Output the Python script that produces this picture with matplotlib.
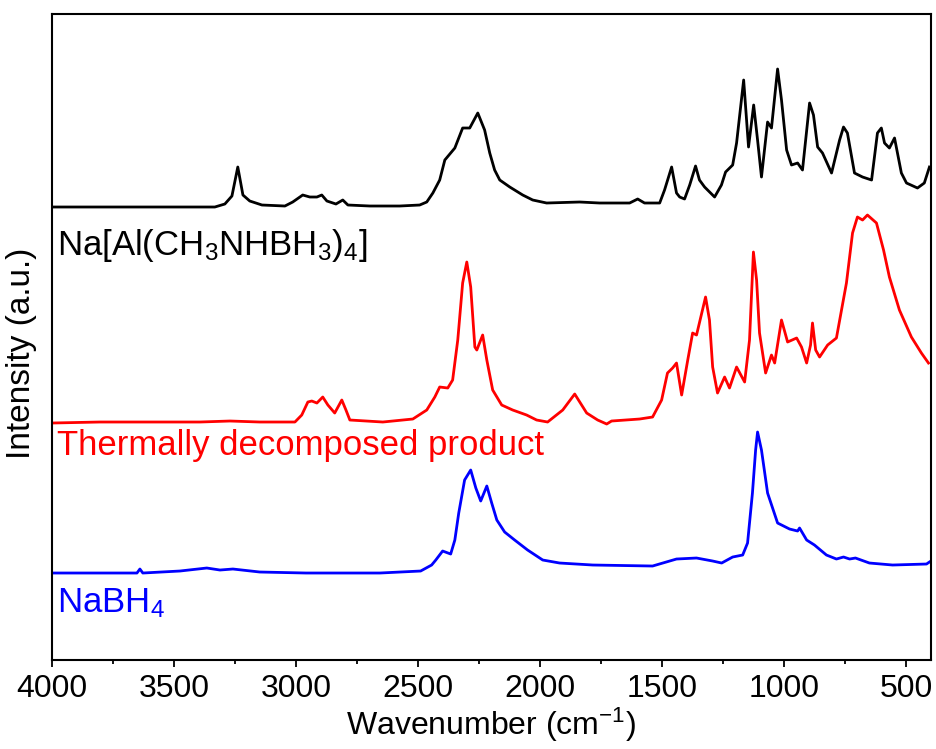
import matplotlib
matplotlib.use('Agg')
from matplotlib import pyplot as plt
from matplotlib.ticker import MultipleLocator

plt.rc('font', family='Liberation Sans', size=23)
plt.rc('mathtext', fontset='custom', rm='Liberation Sans', default='regular')

# Na[Al(CH3NHBH3)4]  (stacked, offset included)
wn_black = [4000, 3599, 3333, 3292, 3263, 3239, 3218, 3190, 3140, 3046, 3014, 2973,
            2944, 2915, 2895, 2874, 2837, 2809, 2788, 2698, 2576, 2494, 2465, 2440,
            2412, 2391, 2350, 2318, 2289, 2256, 2228, 2207, 2187, 2166, 2125, 2072,
            2031, 1974, 1839, 1757, 1634, 1601, 1573, 1511, 1491, 1462, 1442, 1429,
            1409, 1388, 1364, 1348, 1327, 1286, 1258, 1241, 1212, 1196, 1167, 1147,
            1126, 1110, 1094, 1069, 1053, 1028, 1012, 991, 971, 946, 926, 897, 881,
            864, 844, 807, 774, 758, 742, 713, 680, 643, 619, 603, 590, 570, 549,
            521, 500, 455, 427, 406]
int_black = [453, 453, 453, 456, 464, 493, 465, 459, 455, 454, 458, 465,
             463, 463, 465, 459, 456, 460, 455, 454, 454, 455, 458, 467,
             480, 500, 512, 532, 532, 547, 530, 507, 490, 480, 473, 465,
             460, 457, 458, 457, 457, 461, 457, 457, 470, 493, 467, 463,
             461, 475, 494, 480, 473, 463, 475, 488, 495, 517, 580, 513,
             555, 520, 483, 538, 532, 591, 560, 510, 495, 497, 490, 557, 545,
             513, 507, 487, 520, 533, 527, 487, 483, 480, 527, 532, 517, 512, 522,
             487, 477, 472, 477, 493]

# thermally decomposed product
wn_red = [4000, 3804, 3394, 3271, 3149, 3005, 2977, 2952, 2936, 2915, 2891, 2870,
          2842, 2813, 2796, 2780, 2645, 2522, 2465, 2432, 2412, 2379, 2359, 2338,
          2318, 2301, 2285, 2268, 2260, 2236, 2219, 2195, 2158, 2113, 2056, 2015,
          1970, 1908, 1859, 1810, 1765, 1728, 1708, 1593, 1540, 1503, 1479, 1458,
          1442, 1421, 1396, 1376, 1360, 1323, 1307, 1294, 1274, 1245, 1225, 1196,
          1163, 1143, 1127, 1114, 1102, 1077, 1053, 1040, 1012, 987, 950, 930, 909,
          893, 885, 872, 856, 823, 787, 746, 721, 701, 680, 660, 623, 594, 570,
          529, 480, 439, 410]
int_red = [237, 238, 238, 239, 238, 238, 245, 258, 259, 257, 263, 255,
           247, 260, 250, 240, 238, 241, 250, 263, 273, 272, 280, 320,
           377, 398, 373, 313, 310, 325, 300, 270, 255, 250, 245, 240,
           238, 250, 266, 247, 240, 236, 239, 241, 243, 260, 287, 292,
           297, 265, 300, 327, 325, 363, 340, 293, 267, 283, 272, 293,
           278, 320, 408, 380, 327, 287, 305, 297, 340, 318, 322, 313, 297,
           315, 337, 310, 303, 315, 322, 377, 427, 443, 440, 445, 437, 410, 383,
           350, 323, 307, 297]

# NaBH4
wn_blue = [4000, 3804, 3652, 3640, 3628, 3476, 3366, 3312, 3259, 3149, 2960, 2657,
           2490, 2445, 2428, 2400, 2367, 2350, 2334, 2310, 2285, 2264, 2244, 2219,
           2199, 2178, 2146, 2105, 2052, 1990, 1921, 1785, 1540, 1442, 1360, 1294,
           1257, 1212, 1171, 1151, 1131, 1118, 1110, 1094, 1069, 1028, 979, 946,
           938, 909, 877, 828, 787, 758, 733, 709, 652, 557, 418, 406]
int_blue = [87, 87, 87, 91, 87, 89, 92, 90, 91, 88, 87, 87,
            89, 95, 100, 109, 106, 120, 147, 180, 190, 172, 159, 174,
            157, 140, 128, 120, 110, 100, 97, 95, 94, 101, 102, 99,
            97, 103, 105, 117, 167, 210, 228, 210, 167, 137, 131, 129,
            132, 120, 115, 105, 101, 103, 101, 102, 97, 95, 96, 98]

fig = plt.figure(figsize=(9.37, 7.49), dpi=100)
ax = fig.add_axes([0.0555, 0.1188, 0.938, 0.8625])

ax.plot(wn_black, int_black, color='black', lw=2)
ax.plot(wn_red, int_red, color='#ff0000', lw=2)
ax.plot(wn_blue, int_blue, color='#0000ff', lw=2)

ax.set_xlim(4000, 400)
ax.set_ylim(0, 646)
ax.xaxis.set_major_locator(MultipleLocator(500))
ax.xaxis.set_minor_locator(MultipleLocator(250))
ax.tick_params(which='both', direction='out', bottom=True, top=False,
               left=False, right=False, labelleft=False)
ax.tick_params(which='major', length=5, width=1.3, pad=5)
ax.tick_params(which='minor', length=3, width=1.3)
for sp in ax.spines.values():
    sp.set_linewidth(1.5)

ax.text(0.006, 0.627, r'Na[Al(CH$_3$NHBH$_3$)$_4$]', transform=ax.transAxes,
        color='black', fontsize=25, va='baseline')
ax.text(0.006, 0.317, 'Thermally decomposed product', transform=ax.transAxes,
        color='#ff0000', fontsize=25, va='baseline')
ax.text(0.006, 0.074, r'NaBH$_4$', transform=ax.transAxes,
        color='#0000ff', fontsize=25, va='baseline')

ax.set_xlabel(r'Wavenumber (cm$^{-1}$)', fontsize=23, labelpad=1)
ax.set_ylabel('Intensity (a.u.)', fontsize=24)
ax.yaxis.set_label_coords(-0.017, 0.474)

fig.savefig('out.png', dpi=100)
